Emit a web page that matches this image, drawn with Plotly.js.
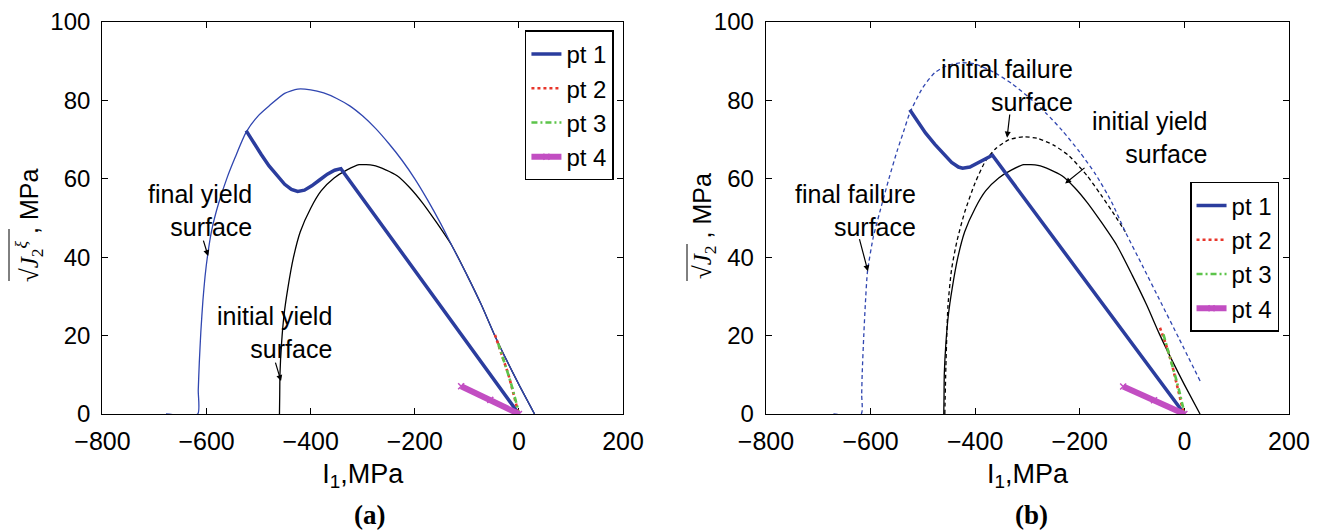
<!DOCTYPE html>
<html>
<head>
<meta charset="utf-8">
<script src="https://cdn.plot.ly/plotly-3.0.1.min.js"></script>
<style>html,body{margin:0;padding:0;background:#fff;}</style>
</head>
<body>
<div id="chart" style="width:1322px;height:532px;"></div>
<script>
// ---------- panel (a) ----------
const finalYieldA_I1 = [-678, -617, -616, -614, -611, -607, -603, -598, -590, -577, -560, -545, -524, -500, -480, -450, -425, -400, -375, -350, -325, -300, -275, -250, -225, -200, -175, -150, -129, -100, -72, -48, -24, 0, 30];
const finalYieldA_J2 = [0, 0, 6, 13, 21, 29, 35, 40.5, 47, 53.7, 60.5, 65.5, 71.9, 76.2, 78.6, 81.8, 82.9, 82.7, 81.9, 80.5, 78.6, 76, 72.8, 69, 64.8, 60, 54.5, 48.5, 43, 35.5, 27.8, 20.5, 13.8, 7.5, 0];

const initYield_I1 = [-460, -459.5, -459, -456, -451, -444, -433, -420, -400, -380, -355, -331, -307, -280, -256, -234, -210, -186, -158, -129, -100, -72, -48, -24, 0, 30];
const initYield_J2 = [0, 5, 10.3, 18, 25.5, 32, 40, 46.5, 52.5, 56.9, 60.2, 62.2, 63.6, 63.4, 62.3, 60.8, 57.8, 54, 48.8, 43, 35.5, 27.8, 20.5, 13.8, 7.5, 0];

const pt1A_I1 = [-524, -510, -495, -480, -465, -450, -437, -425, -412, -398, -383, -368, -354, -342, 0];
const pt1A_J2 = [72.3, 69.3, 66.2, 63.3, 60.8, 58.6, 57.3, 56.8, 57.1, 58.2, 59.7, 61.2, 62.2, 62.6, 0];
const pt2A_I1 = [-46, -40, -33, -27, -20, -14, -6, -1];
const pt2A_J2 = [20.2, 17.8, 15.5, 12.9, 10, 7, 2.7, 0.2];
const pt3A_I1 = [-40, -33, -26, -19, -12, -5, 0];
const pt3A_J2 = [18, 15.3, 12.5, 9.5, 6.3, 3, 0.3];
const pt4A_I1 = [-111, -55, 0];
const pt4A_J2 = [7.1, 3.6, 0];

// ---------- panel (b) ----------
const finalFailB_I1 = [-671, -618, -617, -616, -613, -610, -606, -595, -582, -565, -549, -537, -525, -500, -477, -455, -428, -400, -363, -330, -299, -265, -234, -200, -169, -140, -113, -80, -48, -10, 31];
const finalFailB_J2 = [0, 0, 5, 10.3, 20, 28, 36.2, 45, 51.7, 60, 67.2, 72, 76.8, 83.3, 87.1, 88.8, 89.6, 89.3, 87.1, 84.3, 81, 76.8, 72.4, 66.8, 61, 54.3, 46.5, 37.8, 29.3, 19.2, 8.2];
const initFailB_I1 = [-458, -456, -452, -445, -435, -420, -400, -380, -360, -335, -307, -280, -250, -220, -186, -160, -137, -113];
const initFailB_J2 = [0, 12, 27.6, 37, 44, 51.5, 59, 64.6, 67.8, 70, 70.7, 70.3, 68.6, 65.8, 60.8, 56, 51.5, 46.5];

const pt1B_I1 = [-525, -510, -495, -477, -460, -445, -432, -424, -410, -395, -380, -367, 0];
const pt1B_J2 = [77.6, 74.6, 71.7, 68.8, 66.3, 64.2, 63, 62.7, 63, 64, 65.2, 66, 0];
const pt2B_I1 = [-46.6, -41, -36, -30, -24, -18, -12, -6, -1.5];
const pt2B_J2 = [22, 20, 18.1, 15.5, 12.9, 9.5, 6, 3, 0.4];
const pt3B_I1 = [-40, -34, -28, -22, -16, -10, -4, 0];
const pt3B_J2 = [20.3, 17.6, 14.8, 12, 9, 6, 2.5, 0.3];
const pt4B_I1 = [-117, -58, 0];
const pt4B_J2 = [7.0, 3.5, 0];

const legendNames = ['pt 1', 'pt 2', 'pt 3', 'pt 4'];
const xTicks = [-800, -600, -400, -200, 0, 200];
const yTicks = [0, 20, 40, 60, 80, 100];

// ---------- styles ----------
const BLUE = '#2b3d9e', THINBLUE = '#3046b0', RED = '#e8352a', GREEN = '#5cc44a', MAG = '#c24ec2';
const FONT = 'Liberation Sans, Arial, Helvetica, sans-serif';
const SERIF = 'Liberation Serif, Times New Roman, serif';

function curve(x, y, xa, ya, color, width, dash) {
  return {x, y, xaxis: xa, yaxis: ya, type: 'scatter', mode: 'lines', showlegend: false, hoverinfo: 'skip',
          line: {color, width, dash: dash || 'solid', shape: 'spline', smoothing: 0.6}};
}
function pts(x, y, xa, ya, leg, idx) {
  const styles = [
    {line: {color: BLUE, width: 3.5}},
    {line: {color: RED, width: 2.6, dash: '3px,3px'}},
    {line: {color: GREEN, width: 2.6, dash: '6px,3px,2px,3px'}},
    {line: {color: MAG, width: 6}, mode: 'lines+markers', marker: {symbol: 'x-thin-open', size: 6, color: MAG, line: {color: MAG, width: 1.5}}}
  ];
  const s = styles[idx];
  return Object.assign({x, y, xaxis: xa, yaxis: ya, type: 'scatter', mode: s.mode || 'lines', name: legendNames[idx],
          legend: leg, showlegend: true, hoverinfo: 'skip', line: Object.assign({shape: 'linear'}, s.line)}, s.marker ? {marker: s.marker} : {});
}

const traces = [
  curve(initYield_I1, initYield_J2, 'x', 'y', '#000', 1.3),
  curve(finalYieldA_I1, finalYieldA_J2, 'x', 'y', THINBLUE, 1.3),
  pts(pt1A_I1, pt1A_J2, 'x', 'y', 'legend', 0),
  pts(pt2A_I1, pt2A_J2, 'x', 'y', 'legend', 1),
  pts(pt3A_I1, pt3A_J2, 'x', 'y', 'legend', 2),
  pts(pt4A_I1, pt4A_J2, 'x', 'y', 'legend', 3),

  curve(initYield_I1, initYield_J2, 'x2', 'y2', '#000', 1.3),
  curve(initFailB_I1, initFailB_J2, 'x2', 'y2', '#000', 1.3, '4px,3px'),
  curve(finalFailB_I1, finalFailB_J2, 'x2', 'y2', THINBLUE, 1.3, '4px,3px'),
  pts(pt1B_I1, pt1B_J2, 'x2', 'y2', 'legend2', 0),
  pts(pt2B_I1, pt2B_J2, 'x2', 'y2', 'legend2', 1),
  pts(pt3B_I1, pt3B_J2, 'x2', 'y2', 'legend2', 2),
  pts(pt4B_I1, pt4B_J2, 'x2', 'y2', 'legend2', 3)
];

function xax(domain, anchor) {
  return {domain, anchor, range: [-800, 200], tickvals: xTicks, ticks: 'inside', ticklen: 6, tickcolor: '#000',
          showline: true, mirror: 'ticks', linecolor: '#000', linewidth: 1.3, showgrid: false, zeroline: false,
          layer: 'below traces',
          tickfont: {family: FONT, size: 25, color: '#000'}, ticklabelstandoff: 5, automargin: false,
          title: {text: 'I<sub>1</sub>,MPa', font: {family: FONT, size: 27, color: '#000'}, standoff: 9}};
}
function yax(domain, anchor) {
  return {domain, anchor, range: [0, 100], tickvals: yTicks, ticks: 'inside', ticklen: 6, tickcolor: '#000',
          showline: true, mirror: 'ticks', linecolor: '#000', linewidth: 1.3, showgrid: false, zeroline: false,
          layer: 'below traces',
          tickfont: {family: FONT, size: 24, color: '#000'}, ticklabelstandoff: 6, automargin: false};
}
const yTitleA = "<span style=\"font-family:'Liberation Serif',serif\">√<i>J</i><sub>2</sub><sup><i>ξ</i></sup></span> , MPa";
const yTitleB = "<span style=\"font-family:'Liberation Serif',serif\">√<i>J</i><sub>2</sub></span> , MPa";

function txt(xref, yref, x, y, text) {
  return {xref, yref, x, y, text, showarrow: false, align: 'right', xanchor: 'right', yanchor: 'middle',
          font: {family: FONT, size: 25, color: '#000'}};
}
function arr(xref, yref, x, y, ax, ay) {
  return {xref, yref, x, y, ax, ay, axref: xref, ayref: yref, text: '', showarrow: true,
          arrowhead: 2, arrowsize: 1, arrowwidth: 1.2, arrowcolor: '#000', standoff: 0};
}
function ytitle(px, text) {
  return {xref: 'paper', yref: 'paper', x: px / 1322, y: (532 - 226) / 532, text, textangle: -90, showarrow: false,
          xanchor: 'center', yanchor: 'middle', font: {family: FONT, size: 25, color: '#000'}};
}
function overbar(px, top, bottom) {
  return {type: 'line', xref: 'paper', yref: 'paper', x0: px / 1322, x1: px / 1322,
          y0: (532 - top) / 532, y1: (532 - bottom) / 532, line: {color: '#000', width: 1}};
}

const layout = {
  width: 1322, height: 532, margin: {l: 0, r: 0, t: 0, b: 0},
  paper_bgcolor: '#fff', plot_bgcolor: '#fff', font: {family: FONT, color: '#000'},
  xaxis: xax([0.0775, 0.4713], 'y'),
  yaxis: yax([0.2218, 0.9586], 'x'),
  xaxis2: xax([0.5794, 0.9750], 'y2'),
  yaxis2: yax([0.2218, 0.9586], 'x2'),
  legend: {x: 0.4644, y: 0.9427, xanchor: 'right', yanchor: 'top', bgcolor: '#fff', bordercolor: '#000', borderwidth: 1.5,
           font: {family: FONT, size: 24, color: '#000'}, itemwidth: 30, tracegroupgap: 0},
  legend2: {x: 0.9675, y: 0.6579, xanchor: 'right', yanchor: 'top', bgcolor: '#fff', bordercolor: '#000', borderwidth: 1.5,
           font: {family: FONT, size: 24, color: '#000'}, itemwidth: 30, tracegroupgap: 0},
  shapes: [overbar(9, 229, 281), overbar(687, 244, 281)],
  annotations: [
    ytitle(29, yTitleA),
    ytitle(704, yTitleB),
    txt('x', 'y', -509, 52, 'final yield<br>surface'),
    arr('x', 'y', -597, 40.3, -607, 44.6),
    txt('x', 'y', -355, 20.7, 'initial yield<br>surface'),
    arr('x', 'y', -457, 8.4, -468.6, 13.5),
    txt('x2', 'y2', -209, 83.8, 'initial failure<br>surface'),
    arr('x2', 'y2', -339, 70.5, -333.5, 76.8),
    txt('x2', 'y2', 47, 70.6, 'initial yield<br>surface'),
    arr('x2', 'y2', -228, 58.8, -188, 63.1),
    txt('x2', 'y2', -509, 52, 'final failure<br>surface'),
    arr('x2', 'y2', -605, 36.4, -622, 45),
    {xref: 'paper', yref: 'paper', x: 369 / 1322, y: (532 - 515) / 532, xanchor: 'center', yanchor: 'middle',
     text: '<b>(a)</b>', showarrow: false, font: {family: SERIF, size: 27, color: '#000'}},
    {xref: 'paper', yref: 'paper', x: 1031 / 1322, y: (532 - 515) / 532, xanchor: 'center', yanchor: 'middle',
     text: '<b>(b)</b>', showarrow: false, font: {family: SERIF, size: 27, color: '#000'}}
  ]
};

Plotly.newPlot('chart', traces, layout, {staticPlot: true, displayModeBar: false});
</script>
</body>
</html>
